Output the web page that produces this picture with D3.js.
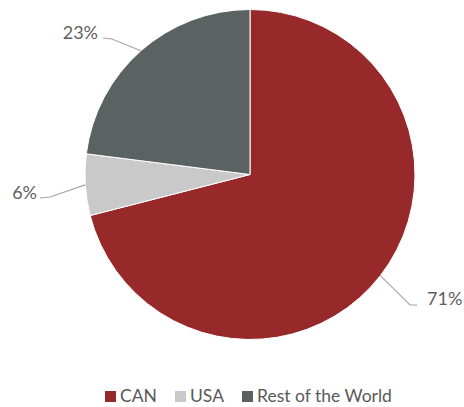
<!DOCTYPE html>
<html>
<head>
<meta charset="utf-8">
<script src="https://cdn.jsdelivr.net/npm/d3@7"></script>
<style>
  body { margin: 0; background: #fff; }
  svg { display: block; font-family: Lato, "Open Sans", sans-serif; }
</style>
</head>
<body>
<div id="chart"></div>
<script>
// data
const categories = ['CAN', 'USA', 'Rest of the World'];
const shares = [71, 6, 23];
const colors = ['#98292a', '#c9c9c9', '#5b6262'];

const width = 464, height = 407;
const center = { x: 250, y: 174.5 };
const radius = 165;

// where each label sits, plus the elbow of its leader line
const labelLayout = [
  { x: 427, y: 305, anchor: 'start', elbow: [[410, 305], [417, 305]] },
  { x: 37, y: 199, anchor: 'end', elbow: [[50, 197], [40, 198]] },
  { x: 98, y: 39, anchor: 'end', elbow: [[112, 39], [103, 38]] }
];

const svg = d3.select('#chart')
  .append('svg')
  .attr('width', width)
  .attr('height', height);

const data = categories.map((c, i) => ({ name: c, value: shares[i], color: colors[i] }));

const pie = d3.pie().sort(null).value(d => d.value);
const arcPath = d3.arc().innerRadius(0).outerRadius(radius);

const graph = svg.append('g')
  .attr('transform', `translate(${center.x}, ${center.y})`);

const arcs = pie(data);

graph.selectAll('path.slice')
  .data(arcs)
  .enter()
  .append('path')
  .attr('class', 'slice')
  .attr('d', arcPath)
  .attr('fill', d => d.data.color)
  .attr('stroke', '#fff')
  .attr('stroke-width', 1);

// leader lines
const edgePoint = (d) => {
  const a = (d.startAngle + d.endAngle) / 2;
  return [center.x + radius * Math.sin(a), center.y - radius * Math.cos(a)];
};

const line = d3.line().curve(d3.curveLinear);

arcs.forEach((d, i) => {
  const lay = labelLayout[i];
  const pts = [edgePoint(d), ...lay.elbow];
  svg.append('path')
    .attr('d', line(pts))
    .attr('fill', 'none')
    .attr('stroke', '#a6a6a6')
    .attr('stroke-width', 1.2);

  svg.append('text')
    .attr('x', lay.x)
    .attr('y', lay.y)
    .attr('text-anchor', lay.anchor)
    .attr('font-size', 18)
    .attr('fill', '#5f5f5f')
    .text(`${d.data.value}%`);
});

// legend
const legendItems = [
  { x: 105 },
  { x: 175 },
  { x: 242 }
];

const legend = svg.append('g');
data.forEach((d, i) => {
  legend.append('rect')
    .attr('x', legendItems[i].x)
    .attr('y', 391)
    .attr('width', 11)
    .attr('height', 11)
    .attr('fill', d.color);
  legend.append('text')
    .attr('x', legendItems[i].x + 15)
    .attr('y', 402)
    .attr('font-size', 17.5)
    .attr('fill', '#595959')
    .text(d.name);
});
</script>
</body>
</html>
